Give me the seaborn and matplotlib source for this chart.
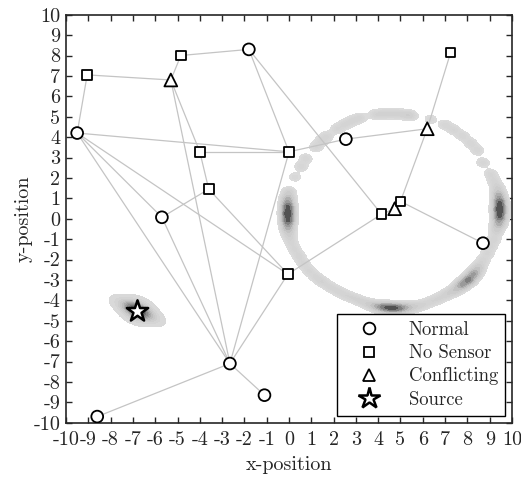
import numpy as np
import pandas as pd
import matplotlib
matplotlib.use("Agg")
import matplotlib.pyplot as plt
import seaborn as sns
from matplotlib.colors import LinearSegmentedColormap
from matplotlib.lines import Line2D

# ---- sensor network nodes ----
node_x = [-9.5, -9.05, -5.3, -4.85, -1.8, -4.0, -3.6, -5.7, 0.0, 2.55,
          6.2, 7.25, 4.15, 4.74, 5.0, 8.7, -0.05, -2.65, -1.1, -8.6]
node_y = [4.2, 7.05, 6.8, 8.0, 8.3, 3.28, 1.45, 0.07, 3.28, 3.9,
          4.41, 8.15, 0.22, 0.49, 0.85, -1.2, -2.72, -7.1, -8.65, -9.7]
node_kind = ["Normal", "No Sensor", "Conflicting", "No Sensor", "Normal",
             "No Sensor", "No Sensor", "Normal", "No Sensor", "Normal",
             "Conflicting", "No Sensor", "No Sensor", "Conflicting", "No Sensor",
             "Normal", "No Sensor", "Normal", "Normal", "Normal"]

# communication links (pairs of node indices)
edge_from = [0, 1, 2, 3, 4, 4, 0, 5, 2, 5, 2, 6, 6, 0, 0, 0, 7, 8, 16, 17, 17, 16, 12, 13, 14, 10, 14, 8, 9]
edge_to   = [1, 2, 3, 4, 8, 12, 8, 8, 5, 6, 17, 7, 16, 16, 7, 17, 17, 17, 17, 19, 18, 12, 13, 14, 10, 11, 15, 9, 10]

# source location
source_x = [-6.8]
source_y = [-4.5]

# posterior samples of the source estimate (ring-shaped ambiguity)
ring_x = [3.85, 4.2, 4.55, 4.9, 5.25, 5.5,
          2.15, 2.5, 2.85, 3.2,
          1.2, 1.45, 1.7,
          0.55, 0.75,
          0.27,
          0.0, -0.05, -0.05, -0.05, -0.05, -0.05, 0.0,
          0.1, 0.25, 0.45, 0.65, 0.9, 1.2, 1.5, 1.85, 2.2, 2.55, 2.9, 3.25, 3.6,
          3.95, 4.3, 4.65, 5.0, 5.35, 5.7,
          6.05, 6.4, 6.75, 7.1, 7.45, 7.75, 8.05, 8.3, 8.5, 8.7, 8.9, 9.05, 9.2, 9.3,
          9.4, 9.45, 9.45, 9.45, 9.4, 9.35,
          9.2, 9.05,
          8.7,
          8.45, 8.15, 7.8,
          7.4, 7.0,
          6.35]
ring_y = [5.1, 5.13, 5.15, 5.13, 5.1, 5.05,
          4.4, 4.62, 4.8, 4.95,
          3.5, 3.8, 4.05,
          2.55, 2.95,
          2.04,
          1.3, 0.95, 0.6, 0.25, -0.1, -0.45, -0.8,
          -1.15, -1.5, -1.85, -2.2, -2.55, -2.85, -3.1, -3.35, -3.55, -3.75, -3.9, -4.05, -4.2,
          -4.3, -4.35, -4.38, -4.38, -4.35, -4.3,
          -4.2, -4.05, -3.9, -3.7, -3.5, -3.25, -3.0, -2.7, -2.4, -2.05, -1.7, -1.35, -1.0, -0.6,
          -0.25, 0.1, 0.45, 0.8, 1.15, 1.5,
          1.85, 2.2,
          2.75,
          3.35, 3.7, 4.05,
          4.35, 4.6,
          4.88]
ring_w = [1, 1, 1, 1, 1, 1,
          1, 1, 1, 1,
          1, 1, 1,
          1, 1,
          0.8,
          1.5, 3, 5, 6, 5, 3, 1.5,
          1.0, 1.0, 1.1, 1.0, 1.0, 1.0, 1.1, 1.0, 1.0, 1.0, 1.0, 1.1, 1.4,
          2.5, 4, 4.5, 3.5, 2, 1.2,
          1, 1, 1.1, 1.4, 2.0, 3.5, 4.5, 3.5, 2, 1.1, 1, 1, 1.1, 1.5,
          3, 5, 6, 5, 3, 1.5,
          1, 1,
          1,
          1, 1, 1,
          1, 1,
          0.8]

# samples clustered around the true source
cloud_x = [-7.3, -6.65, -6.8, -6.95, -6.3]
cloud_y = [-4.25, -4.2, -4.5, -4.8, -4.75]
cloud_w = [1.5, 1.0, 5, 1.0, 1.5]

tick_vals = list(range(-10, 11))
tick_text = [str(v) for v in tick_vals]

# ---- styling ----
sns.set_theme(style="white")
plt.rcParams.update({
    "font.family": "serif",
    "font.serif": ["cmr10"],
    "axes.unicode_minus": False,
    "mathtext.fontset": "cm",
})
ink = "#262626"
fs = 14.5

fig = plt.figure(figsize=(5.21, 4.79), dpi=100)
ax = fig.add_axes([0.1267, 0.1175, 0.856, 0.8518])

greys = LinearSegmentedColormap.from_list(
    "kde_grey", ["#dcdcdc", "#c6c6c6", "#8a8a8a", "#3a3a3a"])

sns.kdeplot(x=ring_x, y=ring_y, weights=ring_w, fill=True, bw_method=0.055,
            levels=12, thresh=0.08, cmap=greys, ax=ax, zorder=1)
sns.kdeplot(x=cloud_x, y=cloud_y, weights=cloud_w, fill=True, bw_method=1.1,
            levels=12, thresh=0.03, cmap=greys, ax=ax, zorder=1)

# links
rows = []
for k, (a, b) in enumerate(zip(edge_from, edge_to)):
    rows.append({"link": k, "order": 0, "x": node_x[a], "y": node_y[a]})
    rows.append({"link": k, "order": 1, "x": node_x[b], "y": node_y[b]})
links = pd.DataFrame(rows)
sns.lineplot(data=links, x="x", y="y", units="link", estimator=None, sort=False,
             color="#c4c4c4", linewidth=0.9, ax=ax, zorder=2, legend=False)

# nodes
nodes = pd.DataFrame({"x": node_x, "y": node_y, "kind": node_kind})
marker_map = {"Normal": "o", "No Sensor": "s", "Conflicting": "^"}
size_map = {"Normal": 72, "No Sensor": 48, "Conflicting": 85}
sns.scatterplot(data=nodes, x="x", y="y", style="kind", markers=marker_map,
                size="kind", sizes=size_map, color="white", edgecolor="black",
                linewidth=1.3, ax=ax, zorder=3, legend=False)
sns.scatterplot(x=source_x, y=source_y, marker="*", s=260, color="white",
                edgecolor="black", linewidth=1.8, ax=ax, zorder=4, legend=False)

ax.set_xlim(-10, 10)
ax.set_ylim(-10, 10)
ax.set_xticks(tick_vals)
ax.set_xticklabels(tick_text)
ax.set_yticks(tick_vals)
ax.set_yticklabels(tick_text)
ax.tick_params(direction="in", length=4.5, width=1.0, color=ink, labelcolor=ink,
               labelsize=fs, top=True, right=True, bottom=True, left=True)
ax.tick_params(axis="x", pad=6)
ax.tick_params(axis="y", pad=4)
for sp in ax.spines.values():
    sp.set_color(ink)
    sp.set_linewidth(1.2)
ax.set_xlabel("x-position", fontsize=fs, color=ink, labelpad=5)
ax.set_ylabel("y-position", fontsize=fs, color=ink, labelpad=1)

handles = [
    Line2D([], [], linestyle="none", marker="o", markersize=8.4, markerfacecolor="white",
           markeredgecolor="black", markeredgewidth=1.3, label="Normal"),
    Line2D([], [], linestyle="none", marker="s", markersize=6.9, markerfacecolor="white",
           markeredgecolor="black", markeredgewidth=1.3, label="No Sensor"),
    Line2D([], [], linestyle="none", marker="^", markersize=9.2, markerfacecolor="white",
           markeredgecolor="black", markeredgewidth=1.3, label="Conflicting"),
    Line2D([], [], linestyle="none", marker="*", markersize=16, markerfacecolor="white",
           markeredgecolor="black", markeredgewidth=1.8, label="Source"),
]
leg = ax.legend(handles=handles, loc="lower right", fontsize=13.5, frameon=True,
                fancybox=False, framealpha=1, edgecolor="black", borderaxespad=0.35,
                handlelength=2.6, handletextpad=0.8, labelspacing=0.28, borderpad=0.4)
leg.get_frame().set_linewidth(1.0)
for t in leg.get_texts():
    t.set_color(ink)

fig.savefig("out.png", dpi=100)
